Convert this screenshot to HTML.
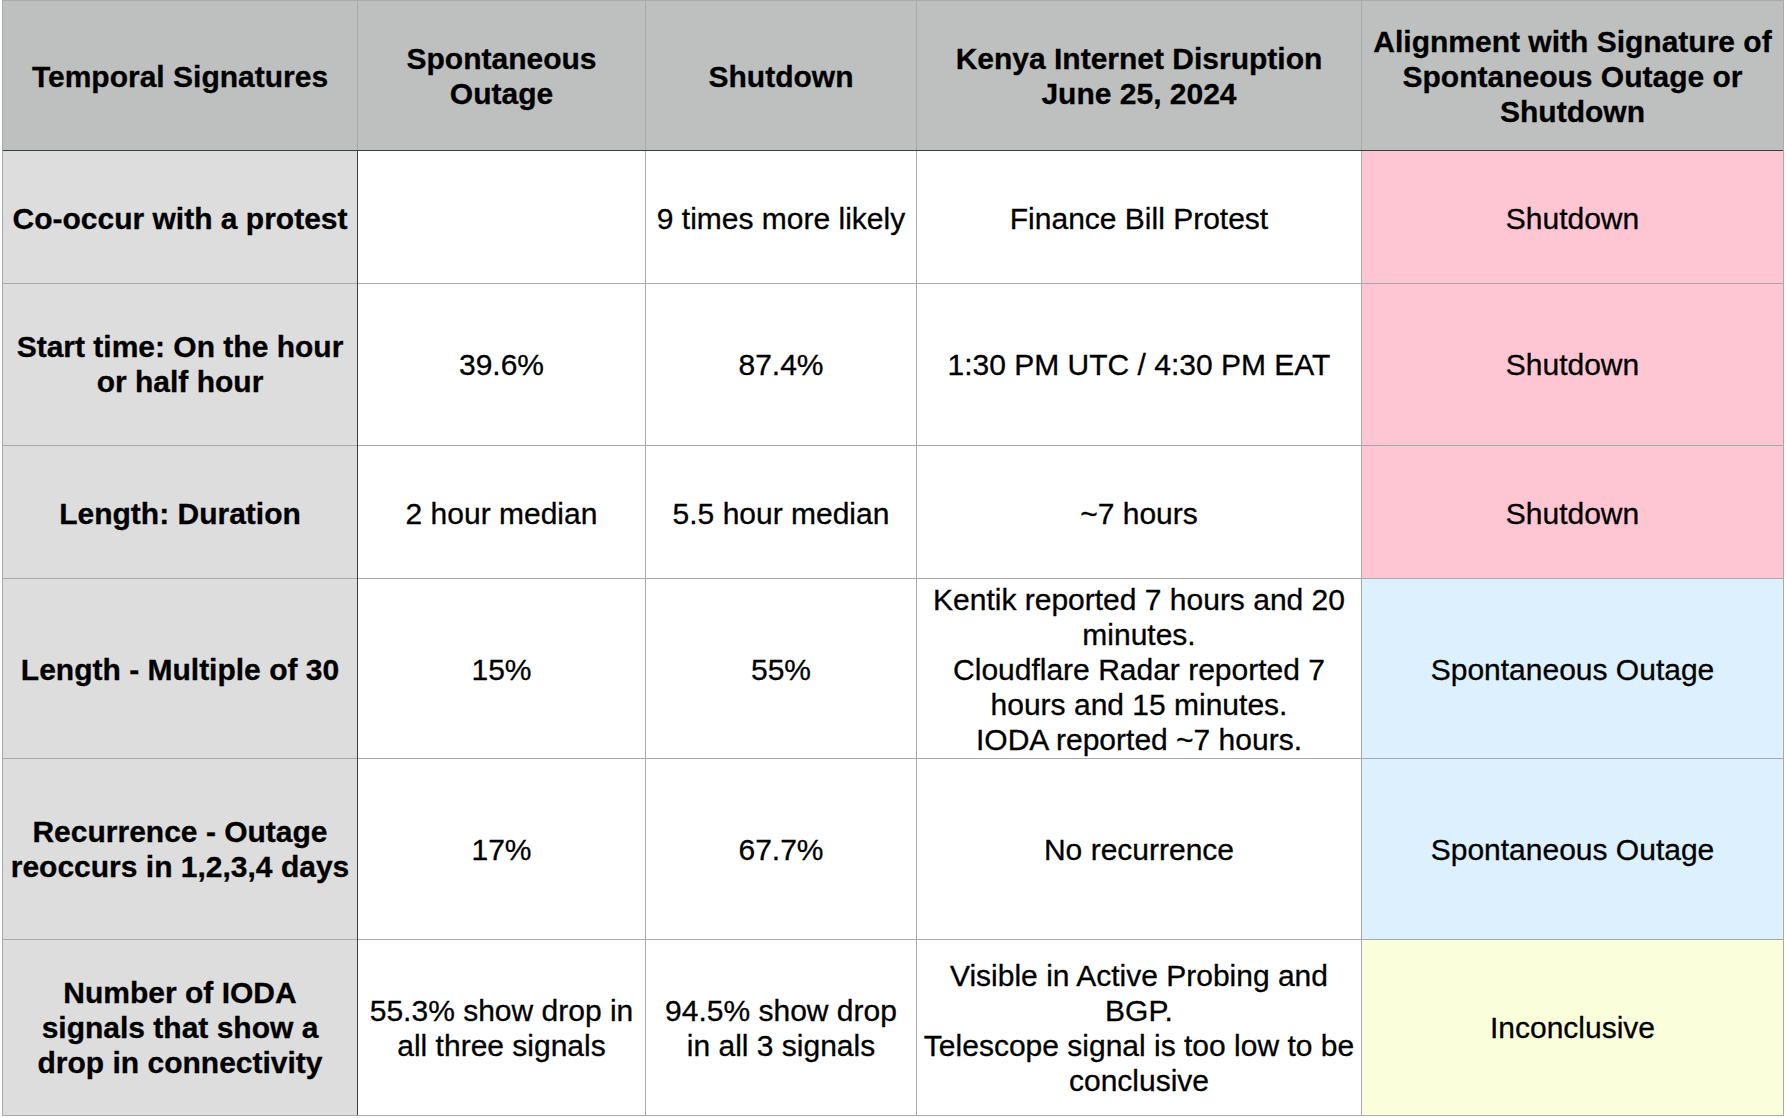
<!DOCTYPE html>
<html><head><meta charset="utf-8"><title>Temporal Signatures</title>
<style>
html,body{margin:0;padding:0;background:#fff;}
body{width:1786px;height:1118px;position:relative;overflow:hidden;font-family:"Liberation Sans",Arial,Helvetica,sans-serif;font-size:30px;line-height:35px;color:#000;}
.t{position:relative;}
.c{position:absolute;display:flex;align-items:center;justify-content:center;text-align:center;box-sizing:border-box;white-space:nowrap;}
.ln{height:35px;-webkit-text-stroke:0.3px #000;}
.h{background:#bec0bf;font-weight:bold;}
.f{background:#dcdddc;font-weight:bold;}
.w{background:#fff;}
.pink{background:#fec5d2;}
.blue{background:#dcf0fe;}
.yellow{background:#fbfedb;}
.l{position:absolute;background:#a9a9a9;}
.d{position:absolute;background:#3d3d3d;}
</style></head><body>
<div class="c h" style="left:2px;top:0px;width:356px;height:151px"><div class="t" style="top:1px"><div class="ln">Temporal Signatures</div></div></div>
<div class="c h" style="left:357px;top:0px;width:289px;height:151px"><div class="t" style="top:0px"><div class="ln">Spontaneous</div><div class="ln">Outage</div></div></div>
<div class="c h" style="left:645px;top:0px;width:272px;height:151px"><div class="t" style="top:1px"><div class="ln">Shutdown</div></div></div>
<div class="c h" style="left:916px;top:0px;width:446px;height:151px"><div class="t" style="top:0px"><div class="ln">Kenya Internet Disruption</div><div class="ln">June 25, 2024</div></div></div>
<div class="c h" style="left:1361px;top:0px;width:423px;height:151px"><div class="t" style="top:1px"><div class="ln">Alignment with Signature of</div><div class="ln">Spontaneous Outage or</div><div class="ln">Shutdown</div></div></div>
<div class="c f" style="left:2px;top:150px;width:356px;height:134px"><div class="t" style="top:1px"><div class="ln">Co-occur with a protest</div></div></div>
<div class="c w" style="left:357px;top:150px;width:289px;height:134px"><div class="t" style="top:1px"></div></div>
<div class="c w" style="left:645px;top:150px;width:272px;height:134px"><div class="t" style="top:1px"><div class="ln">9 times more likely</div></div></div>
<div class="c w" style="left:916px;top:150px;width:446px;height:134px"><div class="t" style="top:1px"><div class="ln">Finance Bill Protest</div></div></div>
<div class="c pink" style="left:1361px;top:150px;width:423px;height:134px"><div class="t" style="top:1px"><div class="ln">Shutdown</div></div></div>
<div class="c f" style="left:2px;top:283px;width:356px;height:163px"><div class="t" style="top:-1px"><div class="ln">Start time: On the hour</div><div class="ln">or half hour</div></div></div>
<div class="c w" style="left:357px;top:283px;width:289px;height:163px"><div class="t" style="top:0px"><div class="ln">39.6%</div></div></div>
<div class="c w" style="left:645px;top:283px;width:272px;height:163px"><div class="t" style="top:0px"><div class="ln">87.4%</div></div></div>
<div class="c w" style="left:916px;top:283px;width:446px;height:163px"><div class="t" style="top:0px"><div class="ln">1:30 PM UTC / 4:30 PM EAT</div></div></div>
<div class="c pink" style="left:1361px;top:283px;width:423px;height:163px"><div class="t" style="top:0px"><div class="ln">Shutdown</div></div></div>
<div class="c f" style="left:2px;top:445px;width:356px;height:134px"><div class="t" style="top:1px"><div class="ln">Length: Duration</div></div></div>
<div class="c w" style="left:357px;top:445px;width:289px;height:134px"><div class="t" style="top:1px"><div class="ln">2 hour median</div></div></div>
<div class="c w" style="left:645px;top:445px;width:272px;height:134px"><div class="t" style="top:1px"><div class="ln">5.5 hour median</div></div></div>
<div class="c w" style="left:916px;top:445px;width:446px;height:134px"><div class="t" style="top:1px"><div class="ln">~7 hours</div></div></div>
<div class="c pink" style="left:1361px;top:445px;width:423px;height:134px"><div class="t" style="top:1px"><div class="ln">Shutdown</div></div></div>
<div class="c f" style="left:2px;top:578px;width:356px;height:181px"><div class="t" style="top:1px"><div class="ln">Length - Multiple of 30</div></div></div>
<div class="c w" style="left:357px;top:578px;width:289px;height:181px"><div class="t" style="top:1px"><div class="ln">15%</div></div></div>
<div class="c w" style="left:645px;top:578px;width:272px;height:181px"><div class="t" style="top:1px"><div class="ln">55%</div></div></div>
<div class="c w" style="left:916px;top:578px;width:446px;height:181px"><div class="t" style="top:1px"><div class="ln">Kentik reported 7 hours and 20</div><div class="ln">minutes.</div><div class="ln">Cloudflare Radar reported 7</div><div class="ln">hours and 15 minutes.</div><div class="ln">IODA reported ~7 hours.</div></div></div>
<div class="c blue" style="left:1361px;top:578px;width:423px;height:181px"><div class="t" style="top:1px"><div class="ln">Spontaneous Outage</div></div></div>
<div class="c f" style="left:2px;top:758px;width:356px;height:182px"><div class="t" style="top:0px"><div class="ln">Recurrence - Outage</div><div class="ln">reoccurs in 1,2,3,4 days</div></div></div>
<div class="c w" style="left:357px;top:758px;width:289px;height:182px"><div class="t" style="top:0px"><div class="ln">17%</div></div></div>
<div class="c w" style="left:645px;top:758px;width:272px;height:182px"><div class="t" style="top:0px"><div class="ln">67.7%</div></div></div>
<div class="c w" style="left:916px;top:758px;width:446px;height:182px"><div class="t" style="top:0px"><div class="ln">No recurrence</div></div></div>
<div class="c blue" style="left:1361px;top:758px;width:423px;height:182px"><div class="t" style="top:0px"><div class="ln">Spontaneous Outage</div></div></div>
<div class="c f" style="left:2px;top:939px;width:356px;height:177px"><div class="t" style="top:0px"><div class="ln">Number of IODA</div><div class="ln">signals that show a</div><div class="ln">drop in connectivity</div></div></div>
<div class="c w" style="left:357px;top:939px;width:289px;height:177px"><div class="t" style="top:0px"><div class="ln">55.3% show drop in</div><div class="ln">all three signals</div></div></div>
<div class="c w" style="left:645px;top:939px;width:272px;height:177px"><div class="t" style="top:0px"><div class="ln">94.5% show drop</div><div class="ln">in all 3 signals</div></div></div>
<div class="c w" style="left:916px;top:939px;width:446px;height:177px"><div class="t" style="top:0px"><div class="ln">Visible in Active Probing and</div><div class="ln">BGP.</div><div class="ln">Telescope signal is too low to be</div><div class="ln">conclusive</div></div></div>
<div class="c yellow" style="left:1361px;top:939px;width:423px;height:177px"><div class="t" style="top:0px"><div class="ln">Inconclusive</div></div></div>
<div class="l" style="left:2px;top:0px;width:1782px;height:1px"></div>
<div class="l" style="left:2px;top:150px;width:1782px;height:1px"></div>
<div class="l" style="left:2px;top:283px;width:1782px;height:1px"></div>
<div class="l" style="left:2px;top:445px;width:1782px;height:1px"></div>
<div class="l" style="left:2px;top:578px;width:1782px;height:1px"></div>
<div class="l" style="left:2px;top:758px;width:1782px;height:1px"></div>
<div class="l" style="left:2px;top:939px;width:1782px;height:1px"></div>
<div class="l" style="left:2px;top:1115px;width:1782px;height:1px"></div>
<div class="l" style="left:2px;top:0px;width:1px;height:1116px"></div>
<div class="l" style="left:357px;top:0px;width:1px;height:1116px"></div>
<div class="l" style="left:645px;top:0px;width:1px;height:1116px"></div>
<div class="l" style="left:916px;top:0px;width:1px;height:1116px"></div>
<div class="l" style="left:1361px;top:0px;width:1px;height:1116px"></div>
<div class="l" style="left:1783px;top:0px;width:1px;height:1116px"></div>
<div class="d" style="left:3px;top:150px;width:1780px;height:1px"></div>
<div class="d" style="left:357px;top:150px;width:1px;height:965px"></div>
</body></html>
